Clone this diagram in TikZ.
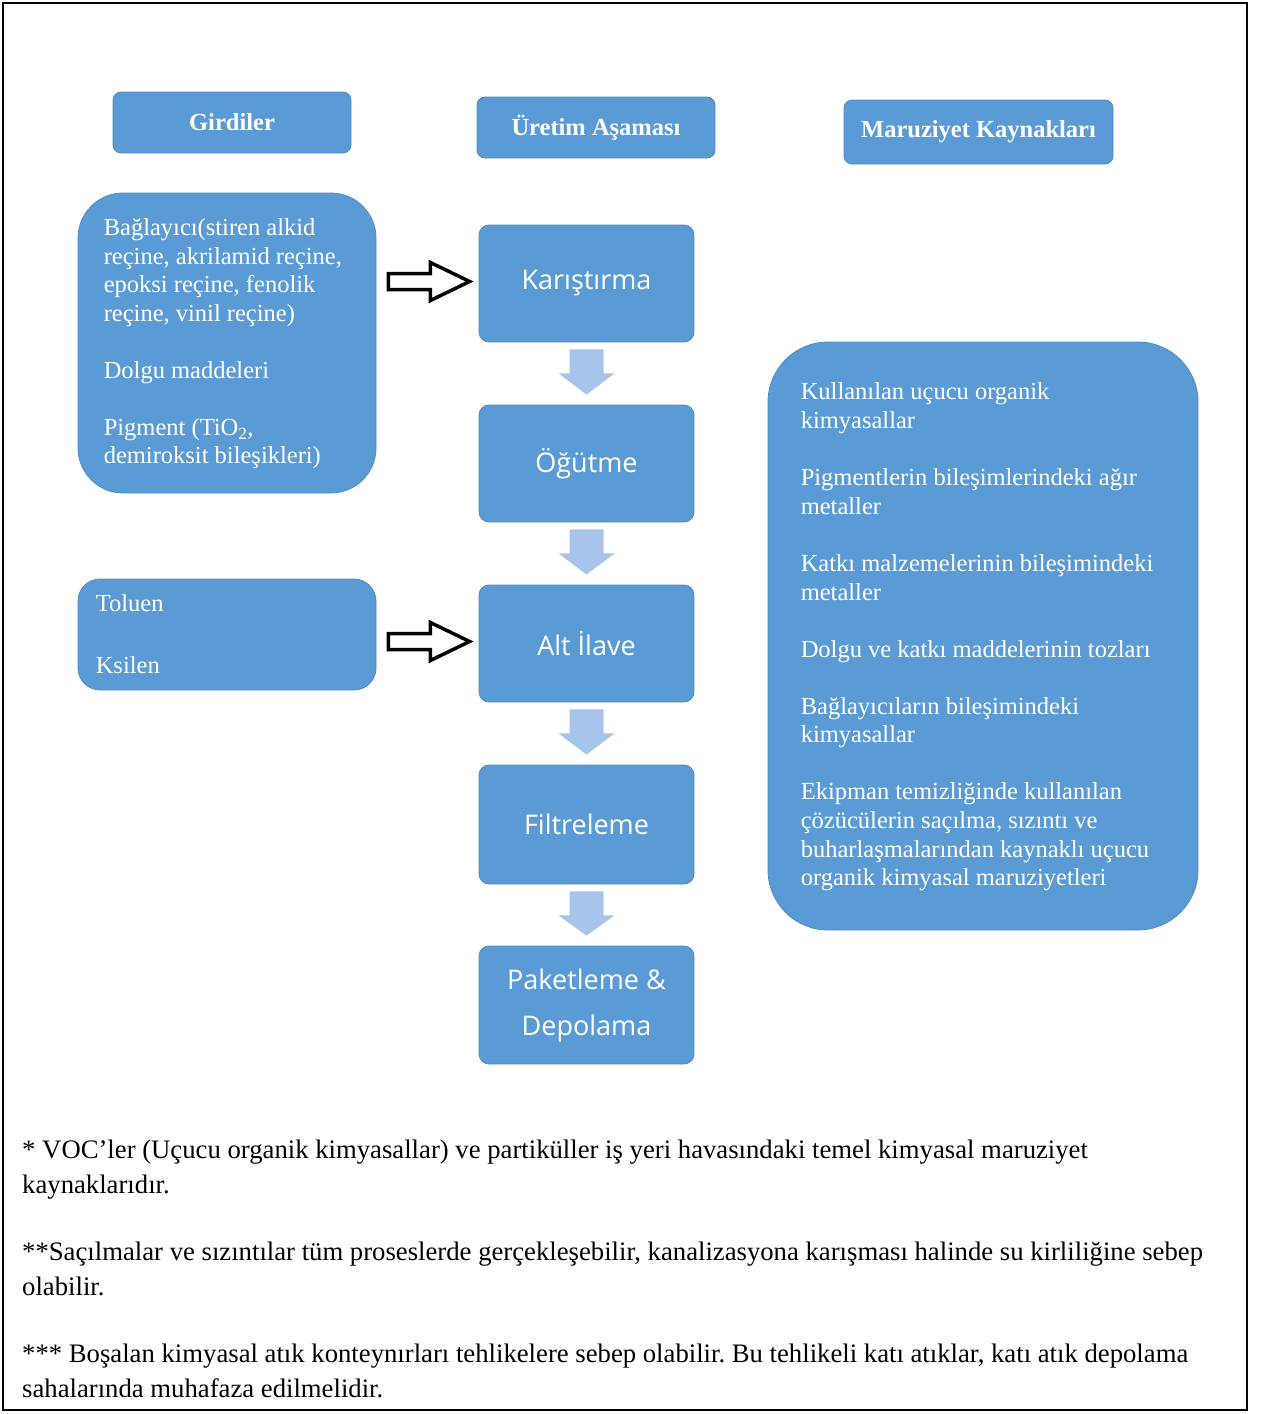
\documentclass[tikz,border=0pt]{standalone}
\usepackage{fontspec}
\setmainfont{Liberation Serif}
\newfontfamily\procfont{Open Sans}
\usetikzlibrary{calc}
\definecolor{boxblue}{HTML}{5B9BD5}
\definecolor{boxedge}{HTML}{4F8CC6}
\definecolor{arrblue}{HTML}{A9C4EA}
\tikzset{
  bluebox/.style={fill=boxblue, draw=boxedge, line width=0.8pt, inner sep=0pt},
  headbox/.style={bluebox, rounded corners=8pt, text=white, font=\fontsize{24.5pt}{28pt}\selectfont\bfseries},
  procbox/.style={bluebox, rounded corners=10pt, minimum width=215pt, text=white, align=center, font=\procfont\fontsize{27pt}{30pt}\selectfont},
  boxtext/.style={inner sep=0pt, text=white, align=left, font=\fontsize{24.5pt}{28.5pt}\selectfont},
  notetext/.style={inner sep=0pt, text=black, align=left, font=\frenchspacing\fontsize{26.7pt}{35pt}\selectfont},
  downarrow/.style={fill=arrblue, draw=none},
  inarrow/.style={draw=black, line width=3.5pt, line join=miter, fill=white}
}
\begin{document}
\begin{tikzpicture}[x=1pt,y=-1pt]
\useasboundingbox (0,0) rectangle (1261,1414);
\draw[line width=1.5pt] (3,3) rectangle (1247,1410);

% headers
\node[headbox, minimum width=238pt, minimum height=61pt] (hgir) at (232,122.5) {Girdiler};
\node[headbox, minimum width=238pt, minimum height=61pt] (huret) at (596,127.5) {Üretim Aşaması};
\node[headbox, minimum width=269pt, minimum height=64pt] (hmar) at (978.5,132) {Maruziyet Kaynakları};

% process boxes
\node[procbox, minimum height=117pt] (k) at (586.5,283.5) {Karıştırma};
\node[procbox, minimum height=117pt] (o) at (586.5,463.5) {Öğütme};
\node[procbox, minimum height=117pt] (a) at (586.5,643.5) {Alt İlave};
\node[procbox, minimum height=119pt] (f) at (586.5,824.5) {Filtreleme};
\node[procbox, minimum height=118pt] (p) at (586.5,1005) {Paketleme \&\\[16pt]Depolama};

% down arrows
\foreach \u/\v in {k/o, o/a, a/f, f/p}{
  \fill[downarrow] ($(\u.south)+(-17,7)$) -- ($(\u.south)+(17,7)$) -- ($(\u.south)+(17,31)$)
    -- ($(\u.south)+(28,31)$) -- ($(\v.north)+(0,-10)$) -- ($(\u.south)+(-28,31)$)
    -- ($(\u.south)+(-17,31)$) -- cycle;
}

% input boxes
\node[bluebox, rounded corners=45pt, minimum width=298pt, minimum height=300pt] (lb) at (227,343) {};
\node[boxtext, anchor=west] (lbt) at ($(lb.west)+(26,1)$) {Bağlayıcı(stiren alkid\\reçine, akrilamid reçine,\\epoksi reçine, fenolik\\reçine, vinil reçine)\\[28.5pt]Dolgu maddeleri\\[28.5pt]Pigment (TiO\textsubscript{2},\\demiroksit bileşikleri)};

\node[bluebox, rounded corners=22pt, minimum width=298pt, minimum height=111pt] (tb) at (227,634.5) {};
\node[boxtext, anchor=west, font=\fontsize{24.5pt}{62pt}\selectfont] (tbt) at ($(tb.west)+(18,0)$) {Toluen\\Ksilen};

% exposure box
\node[bluebox, rounded corners=60pt, minimum width=430pt, minimum height=588pt] (rb) at (983,636) {};
\node[boxtext, anchor=west, font=\fontsize{24.5pt}{28.7pt}\selectfont] (rbt) at ($(rb.west)+(33,1)$) {Kullanılan uçucu organik\\kimyasallar\\[28.3pt]Pigmentlerin bileşimlerindeki ağır\\metaller\\[28.3pt]Katkı malzemelerinin bileşimindeki\\metaller\\[28.3pt]Dolgu ve katkı maddelerinin tozları\\[28.3pt]Bağlayıcıların bileşimindeki\\kimyasallar\\[28.3pt]Ekipman temizliğinde kullanılan\\çözücülerin saçılma, sızıntı ve\\buharlaşmalarından kaynaklı uçucu\\organik kimyasal maruziyetleri};

% input arrows
\coordinate (a1s) at ($(lb.east |- k.west)+(12,-2)$);
\coordinate (a1t) at ($(k.west)+(-9,-2)$);
\draw[inarrow] ($(a1s)+(0,-8)$) -- ($(a1s)+(42,-8)$) -- ($(a1s)+(42,-19)$) -- (a1t)
  -- ($(a1s)+(42,19)$) -- ($(a1s)+(42,8)$) -- ($(a1s)+(0,8)$) -- cycle;
\coordinate (a2s) at ($(tb.east |- a.west)+(12,-2)$);
\coordinate (a2t) at ($(a.west)+(-9,-2)$);
\draw[inarrow] ($(a2s)+(0,-8)$) -- ($(a2s)+(42,-8)$) -- ($(a2s)+(42,-19)$) -- (a2t)
  -- ($(a2s)+(42,19)$) -- ($(a2s)+(42,8)$) -- ($(a2s)+(0,8)$) -- cycle;

% notes
\node[notetext, anchor=north west] (notes) at (22,1140) {* VOC’ler (Uçucu organik kimyasallar) ve partiküller iş yeri havasındaki temel kimyasal maruziyet\\kaynaklarıdır.\\[32pt]**Saçılmalar ve sızıntılar tüm proseslerde gerçekleşebilir, kanalizasyona karışması halinde su kirliliğine sebep\\olabilir.\\[32pt]*** Boşalan kimyasal atık konteynırları tehlikelere sebep olabilir. Bu tehlikeli katı atıklar, katı atık depolama\\sahalarında muhafaza edilmelidir.};
\end{tikzpicture}
\end{document}
